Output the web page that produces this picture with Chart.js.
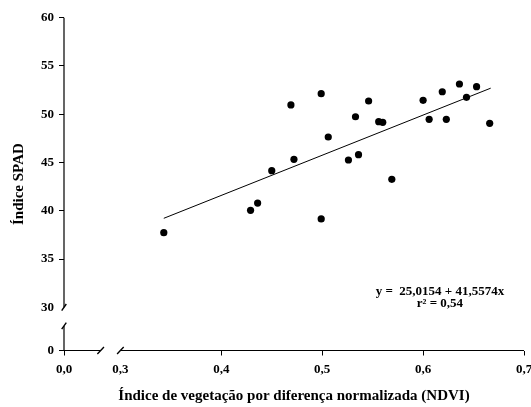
<!DOCTYPE html>
<html>
<head>
<meta charset="utf-8">
<script src="https://cdn.jsdelivr.net/npm/chart.js@4/dist/chart.umd.min.js"></script>
<style>
  html, body { margin: 0; padding: 0; background: #fff; }
  canvas { display: block; }
</style>
</head>
<body>
<canvas id="c" width="531" height="407"></canvas>
<script>
// ---- data ----
const ndvi = [0.469, 0.499, 0.546, 0.533, 0.556, 0.560, 0.506, 0.472, 0.450, 0.526, 0.536, 0.569,
              0.499, 0.600, 0.606, 0.619, 0.623, 0.636, 0.643, 0.653, 0.666, 0.343, 0.429, 0.436];
const spad = [50.96, 52.13, 51.37, 49.74, 49.23, 49.16, 47.64, 45.33, 44.15, 45.26, 45.81, 43.26,
              39.15, 51.44, 49.47, 52.33, 49.47, 53.13, 51.75, 52.85, 49.06, 37.73, 40.05, 40.80];
const trendX = [0.343, 0.667];
const trendY = [39.22, 52.70];
const xTickValues = [0.3, 0.4, 0.5, 0.6, 0.7];
const xTickLabels = ['0,3', '0,4', '0,5', '0,6', '0,7'];
const xOriginLabel = '0,0';
const yTickValues = [30, 35, 40, 45, 50, 55, 60];
const yTickLabels = ['30', '35', '40', '45', '50', '55', '60'];
const yOriginLabel = '0';
const equationLines = ['y =  25,0154 + 41,5574x', 'r\u00B2 = 0,54'];
const xTitle = 'Índice de vegetação por diferença normalizada (NDVI)';
const yTitle = 'Índice SPAD';

// axis extents (the broken segment at the origin)
const X_MIN = 0.2441, X_MAX = 0.7;
const Y_MIN = 25.525, Y_MAX = 60;

const FONT = "'Liberation Serif', 'Times New Roman', serif";

const brokenAxes = {
  id: 'brokenAxes',
  afterDraw(chart) {
    const ctx = chart.ctx;
    const xs = chart.scales.x, ys = chart.scales.y;
    const left = chart.chartArea.left, right = chart.chartArea.right;
    const top = chart.chartArea.top, bottom = chart.chartArea.bottom;
    const x03 = xs.getPixelForValue(0.3);
    const y30 = ys.getPixelForValue(30);
    const xBreak = left + 0.65 * (x03 - left);
    const yBreak = bottom - 0.57 * (bottom - y30);
    ctx.save();
    ctx.strokeStyle = '#000';
    ctx.lineWidth = 1.2;
    ctx.beginPath();
    // y axis
    ctx.moveTo(left, top); ctx.lineTo(left, y30);
    ctx.moveTo(left, yBreak); ctx.lineTo(left, bottom);
    // x axis
    ctx.moveTo(left, bottom); ctx.lineTo(xBreak, bottom);
    ctx.moveTo(x03, bottom); ctx.lineTo(right, bottom);
    ctx.stroke();
    // break slashes
    ctx.lineWidth = 1.4;
    ctx.beginPath();
    ctx.moveTo(left - 2.3, y30 + 3.3); ctx.lineTo(left + 2.3, y30 - 3.3);
    ctx.moveTo(left - 2.3, yBreak + 3.3); ctx.lineTo(left + 2.3, yBreak - 3.3);
    ctx.moveTo(xBreak - 3.3, bottom + 3.4); ctx.lineTo(xBreak + 3.3, bottom - 3.4);
    ctx.moveTo(x03 - 3.3, bottom + 3.4); ctx.lineTo(x03 + 3.3, bottom - 3.4);
    ctx.stroke();
    // equation
    ctx.fillStyle = '#000';
    ctx.font = 'bold 13px ' + FONT;
    ctx.textAlign = 'center';
    ctx.textBaseline = 'middle';
    const ex = xs.getPixelForValue(0.6167);
    ctx.fillText(equationLines[0], ex, ys.getPixelForValue(31.61));
    ctx.fillText(equationLines[1], ex, ys.getPixelForValue(30.41));
    ctx.restore();
  }
};

new Chart(document.getElementById('c'), {
  type: 'scatter',
  data: {
    datasets: [
      {
        data: ndvi.map((v, i) => ({ x: v, y: spad[i] })),
        backgroundColor: '#000',
        borderWidth: 0,
        pointRadius: 3.6,
        pointHoverRadius: 3.6
      },
      {
        type: 'line',
        data: trendX.map((v, i) => ({ x: v, y: trendY[i] })),
        borderColor: '#000',
        borderWidth: 1,
        pointRadius: 0,
        fill: false
      }
    ]
  },
  options: {
    responsive: false,
    animation: false,
    events: [],
    layout: { padding: { top: 17.7, right: 7, left: 0, bottom: 0 } },
    plugins: { legend: { display: false }, tooltip: { enabled: false } },
    scales: {
      x: {
        type: 'linear',
        min: X_MIN, max: X_MAX,
        afterBuildTicks(s) {
          s.ticks = [{ value: X_MIN }].concat(xTickValues.map(v => ({ value: v })));
        },
        afterFit(s) { s.height = 56.5; s.paddingLeft = 0; s.paddingRight = 0; },
        border: { display: false },
        grid: {
          drawOnChartArea: false, drawTicks: true, tickLength: 5, lineWidth: 1,
          color: c => (c.tick && c.tick.value === 0.3) ? 'rgba(0,0,0,0)' : '#000'
        },
        ticks: {
          autoSkip: false, maxRotation: 0, padding: 6, color: '#000',
          font: { family: FONT, size: 13, weight: 'bold' },
          callback: v => {
            const i = xTickValues.indexOf(+v.toFixed(4));
            return i >= 0 ? xTickLabels[i] : xOriginLabel;
          }
        },
        title: {
          display: true, text: xTitle, color: '#000',
          font: { family: FONT, size: 15, weight: 'bold' },
          padding: { top: 0, bottom: 2 }
        }
      },
      y: {
        type: 'linear',
        min: Y_MIN, max: Y_MAX,
        afterBuildTicks(s) {
          s.ticks = [{ value: Y_MIN }].concat(yTickValues.map(v => ({ value: v })));
        },
        afterFit(s) { s.width = 64; s.paddingTop = 0; s.paddingBottom = 0; },
        border: { display: false },
        grid: {
          drawOnChartArea: false, drawTicks: true, tickLength: 5, lineWidth: 1,
          color: c => (c.tick && c.tick.value === 30) ? 'rgba(0,0,0,0)' : '#000'
        },
        ticks: {
          autoSkip: false, padding: 5, color: '#000',
          font: { family: FONT, size: 13, weight: 'bold' },
          callback: v => {
            const i = yTickValues.indexOf(+v.toFixed(4));
            return i >= 0 ? yTickLabels[i] : yOriginLabel;
          }
        },
        title: {
          display: true, text: yTitle, color: '#000',
          font: { family: FONT, size: 15, weight: 'bold' },
          padding: { top: 10, bottom: 0 }
        }
      }
    }
  },
  plugins: [brokenAxes]
});
</script>
</body>
</html>
